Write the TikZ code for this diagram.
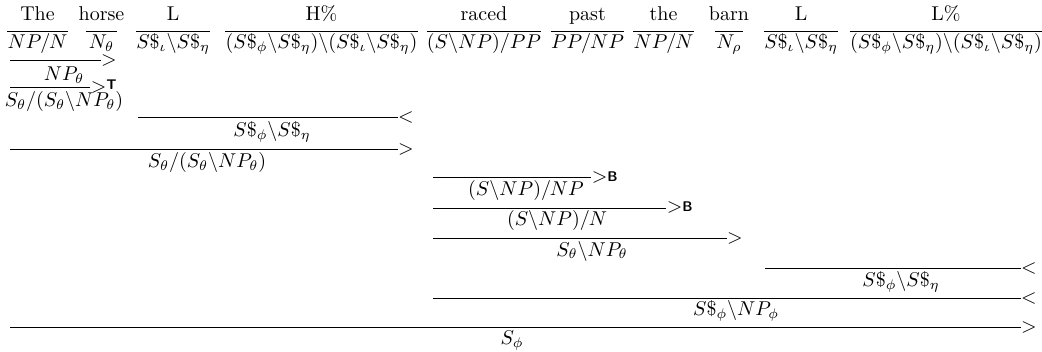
\documentclass[tikz,border=0pt]{standalone}
\usepackage{amsmath,amssymb}
\usepackage{tikz}
\newcommand{\ccgB}{$>$\raisebox{0.6pt}{\scriptsize\sffamily\bfseries B}}
\newcommand{\ccgT}{$>$\raisebox{1.6pt}{\scriptsize\sffamily\bfseries T}}
\begin{document}
\begin{tikzpicture}[
  x=0.5pt, y=-0.5pt,
  word/.style={anchor=base,inner sep=0pt},
  cat/.style={anchor=base,inner xsep=0pt,inner ysep=1pt},
  lab/.style={anchor=base east,inner sep=0pt,yshift=-2.5pt},
  ccgline/.style={line width=0.5pt},
]
\useasboundingbox (0,0) rectangle (1042,352);

% words
\node[word] (w1) at (37.5,21) {The};
\node[word] (w2) at (101.5,21) {horse};
\node[word] (w3) at (173,21) {L};
\node[word] (w4) at (321.5,21) {H\%};
\node[word] (w5) at (484,21) {raced};
\node[word] (w6) at (587.5,21) {past};
\node[word] (w7) at (663.5,21) {the};
\node[word] (w8) at (729,21) {barn};
\node[word] (w9) at (801,21) {L};
\node[word] (w10) at (946,21) {L\%};

% lexical categories
\node[cat,minimum width=27.5pt] (c1) at (37.5,49) {$NP/N$};
\node[cat,minimum width=15.5pt] (c2) at (101.5,49) {$N_\theta$};
\node[cat,minimum width=35pt] (c3) at (173,49) {$S\$_\iota\backslash S\$_\eta$};
\node[cat,minimum width=92.5pt] (c4) at (321.5,49) {$(S\$_\phi\backslash S\$_\eta)\backslash(S\$_\iota\backslash S\$_\eta)$};
\node[cat,minimum width=51pt] (c5) at (484,49) {$(S\backslash NP)/PP$};
\node[cat,minimum width=30.5pt] (c6) at (587.5,49) {$PP/NP$};
\node[cat,minimum width=29.5pt] (c7) at (663.5,49) {$NP/N$};
\node[cat,minimum width=14pt] (c8) at (729,49) {$N_\rho$};
\node[cat,minimum width=36pt] (c9) at (801,49) {$S\$_\iota\backslash S\$_\eta$};
\node[cat,minimum width=91pt] (c10) at (946,49) {$(S\$_\phi\backslash S\$_\eta)\backslash(S\$_\iota\backslash S\$_\eta)$};

\coordinate (lexrule) at (0,32);
\foreach \i in {1,...,10} {
  \draw[ccgline] (c\i.west |- lexrule) -- (c\i.east |- lexrule);
}

% derivation
\coordinate (s2) at (10,61);
\node[lab] (l2) at (117,61) {$>$};
\draw[ccgline] (s2) -- (s2 -| l2.west);
\node[cat] (r2) at (64,81) {$NP_\theta$};

\coordinate (s3) at (10,88);
\node[lab] (l3) at (117,88) {\ccgT};
\draw[ccgline] (s3) -- (s3 -| l3.west);
\node[cat] (r3) at (64,107) {$S_\theta/(S_\theta\backslash NP_\theta)$};

\coordinate (s4) at (138,118);
\node[lab] (l4) at (414,118) {$<$};
\draw[ccgline] (s4) -- (s4 -| l4.west);
\node[cat] (r4) at (272,137) {$S\$_\phi\backslash S\$_\eta$};

\coordinate (s5) at (10,150);
\node[lab] (l5) at (414,150) {$>$};
\draw[ccgline] (s5) -- (s5 -| l5.west);
\node[cat] (r5) at (207,168) {$S_\theta/(S_\theta\backslash NP_\theta)$};

\coordinate (s6) at (433,178);
\node[lab] (l6) at (618,178) {\ccgB};
\draw[ccgline] (s6) -- (s6 -| l6.west);
\node[cat] (r6) at (526,196) {$(S\backslash NP)/NP$};

\coordinate (s7) at (433,208);
\node[lab] (l7) at (693,208) {\ccgB};
\draw[ccgline] (s7) -- (s7 -| l7.west);
\node[cat] (r7) at (557,226) {$(S\backslash NP)/N$};

\coordinate (s8) at (433,238);
\node[lab] (l8) at (743,238) {$>$};
\draw[ccgline] (s8) -- (s8 -| l8.west);
\node[cat] (r8) at (592,256) {$S_\theta\backslash NP_\theta$};

\coordinate (s9) at (765,268);
\node[lab] (l9) at (1037,268) {$<$};
\draw[ccgline] (s9) -- (s9 -| l9.west);
\node[cat] (r9) at (901,286) {$S\$_\phi\backslash S\$_\eta$};

\coordinate (s10) at (433,298);
\node[lab] (l10) at (1037,298) {$<$};
\draw[ccgline] (s10) -- (s10 -| l10.west);
\node[cat] (r10) at (736,315) {$S\$_\phi\backslash NP_\phi$};

\coordinate (s11) at (10,327);
\node[lab] (l11) at (1037,327) {$>$};
\draw[ccgline] (s11) -- (s11 -| l11.west);
\node[cat] (r11) at (512,344) {$S_\phi$};

\end{tikzpicture}
\end{document}
